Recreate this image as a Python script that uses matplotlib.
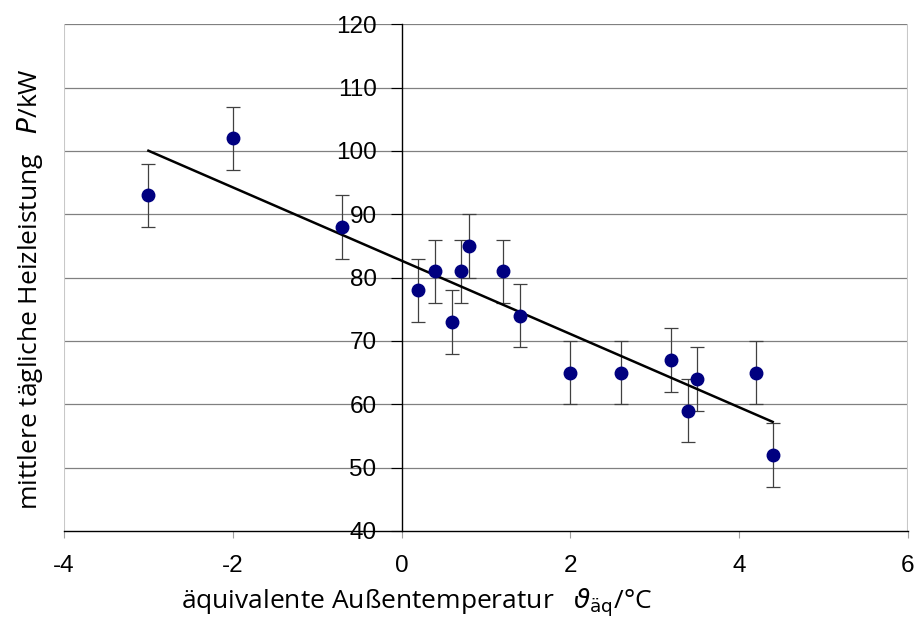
import numpy as np
import matplotlib
matplotlib.use("Agg")
import matplotlib.pyplot as plt

# Messwerte
temp = [-3.0, -2.0, -0.7, 0.2, 0.4, 0.6, 0.7, 0.8, 1.2, 1.4, 2.0, 2.6, 3.2, 3.4, 3.5, 4.2, 4.4]
leistung = [93, 102, 88, 78, 81, 73, 81, 85, 81, 74, 65, 65, 67, 59, 64, 65, 52]
fehler = [5] * len(temp)

x_ticks = [-4, -2, 0, 2, 4, 6]
y_ticks = [40, 50, 60, 70, 80, 90, 100, 110, 120]

plt.rcParams['mathtext.fontset'] = 'dejavusans'
plt.rcParams['axes.unicode_minus'] = False

fig = plt.figure(figsize=(9.15, 6.21), dpi=100)
ax = fig.add_axes([0.070, 0.145, 0.922, 0.816])

ax.set_xlim(-4, 6)
ax.set_ylim(40, 120)

for yv in y_ticks[1:]:
    ax.axhline(yv, color='#808080', lw=0.9, zorder=1)
ax.axvline(-4, color='#c8c8c8', lw=1.5, zorder=1)
ax.axvline(6, color='#c8c8c8', lw=1.5, zorder=1)

ax.errorbar(temp, leistung, yerr=fehler, fmt='none', ecolor='#404040',
            elinewidth=0.9, capsize=5, capthick=0.9, zorder=2)

# lineare Regression
m, b = np.polyfit(temp, leistung, 1)
xl = np.array([min(temp), max(temp)])
ax.plot(xl, m * xl + b, color='black', lw=1.8, zorder=3)

ax.plot(temp, leistung, 'o', color='#000080', markersize=9, zorder=4)

for s in ['top', 'right']:
    ax.spines[s].set_visible(False)
ax.spines['left'].set_position(('data', 0))
ax.spines['left'].set_color('black')
ax.spines['left'].set_linewidth(1.0)
ax.spines['bottom'].set_color('black')
ax.spines['bottom'].set_linewidth(1.0)

ax.set_xticks(x_ticks)
ax.set_yticks(y_ticks)
ax.tick_params(axis='x', direction='out', length=5, color='#a0a0a0',
               labelsize=17.5, pad=12)
ax.tick_params(axis='y', direction='out', length=8, color='black',
               labelsize=17.5, pad=10)
for lab in ax.get_xticklabels() + ax.get_yticklabels():
    lab.set_fontfamily('Liberation Sans')

fig.text(0.455, 0.03, 'äquivalente Außentemperatur   $\\vartheta_{\\mathrm{äq}}$/°C',
         ha='center', va='center', fontsize=19, family='Open Sans')
fig.text(0.033, 0.535, 'mittlere tägliche Heizleistung   $P$/kW', rotation=90,
         ha='center', va='center', fontsize=19, family='Open Sans')

fig.savefig('out.png', dpi=100)
